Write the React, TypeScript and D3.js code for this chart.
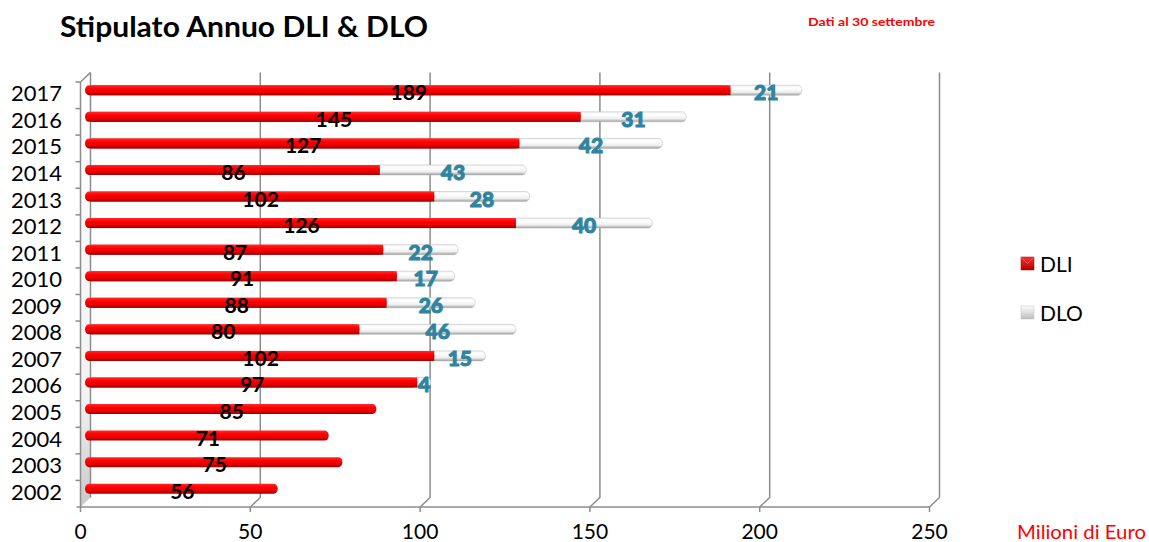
import React from "react";
import * as d3 from "d3";

const years = ["2017","2016","2015","2014","2013","2012","2011","2010","2009","2008","2007","2006","2005","2004","2003","2002"];
const dli = [189,145,127,86,102,126,87,91,88,80,102,97,85,71,75,56];
const dlo = [21,31,42,43,28,40,22,17,26,46,15,4,0,0,0,0];
const xTicks = [0,50,100,150,200,250];
const seriesNames = ["DLI","DLO"];

const W = 1149, H = 542;
const FONT = "Lato, 'Open Sans', sans-serif";

export default function App() {
  const xFront = d3.scaleLinear().domain([0,250]).range([80.5,929.5]);
  const xBar = d3.scaleLinear().domain([0,250]).range([87,938.2]);
  const depthX = 10, depthY = 9.5;
  const y = d3.scaleBand().domain(years).range([82, 507]).paddingInner(0).paddingOuter(0);
  const floorY = 507;
  const backTop = 72.5;
  const barH = 10;
  const teal = "#2f84a0";

  return (
    <svg width={W} height={H} style={{position:"absolute", left:0, top:0, background:"#fff"}} fontFamily={FONT}>
      <defs>
        <linearGradient id="redG" x1="0" y1="0" x2="0" y2="1">
          <stop offset="0" stopColor="#ff2a2a"/>
          <stop offset="0.35" stopColor="#ff0000"/>
          <stop offset="0.7" stopColor="#e80000"/>
          <stop offset="1" stopColor="#9a0000"/>
        </linearGradient>
        <linearGradient id="whiteG" x1="0" y1="0" x2="0" y2="1">
          <stop offset="0" stopColor="#f4f4f4"/>
          <stop offset="0.3" stopColor="#ffffff"/>
          <stop offset="0.7" stopColor="#eeeeee"/>
          <stop offset="1" stopColor="#9c9c9c"/>
        </linearGradient>
        <linearGradient id="wallG" x1="0" y1="0" x2="0" y2="1">
          <stop offset="0" stopColor="#ffffff"/>
          <stop offset="0.75" stopColor="#f2f2f2"/>
          <stop offset="1" stopColor="#c8c8c8"/>
        </linearGradient>
        <linearGradient id="legR" x1="0" y1="0" x2="0" y2="1">
          <stop offset="0" stopColor="#ff3030"/>
          <stop offset="1" stopColor="#b00000"/>
        </linearGradient>
        <linearGradient id="legW" x1="0" y1="0" x2="0" y2="1">
          <stop offset="0" stopColor="#ffffff"/>
          <stop offset="1" stopColor="#bdbdbd"/>
        </linearGradient>
      </defs>

      {/* Title */}
      <text x={60} y={37} fontSize={28} fontWeight={700} fill="#000" textLength={368} lengthAdjust="spacingAndGlyphs">Stipulato Annuo DLI &amp; DLO</text>
      <text x={808} y={26} fontSize={11} fontWeight={700} fill="#ff0000" textLength={127} lengthAdjust="spacingAndGlyphs">Dati al 30 settembre</text>

      {/* Left wall */}
      <path d={`M${xFront(0)},${82} L${xFront(0)+depthX},${backTop} L${xFront(0)+depthX},${floorY-depthY} L${xFront(0)},${floorY} Z`} fill="url(#wallG)" stroke="none"/>
      <line x1={xFront(0)} x2={xFront(0)} y1={82} y2={floorY} stroke="#8c8c8c" strokeWidth={1.5}/>
      <line x1={xFront(0)+depthX} x2={xFront(0)+depthX} y1={backTop} y2={floorY-depthY} stroke="#8c8c8c" strokeWidth={1.5}/>
      <line x1={xFront(0)} x2={xFront(0)+depthX} y1={82} y2={backTop} stroke="#8c8c8c" strokeWidth={1.5}/>

      {/* Gridlines back wall */}
      {xTicks.filter(t => t > 0).map(t => (
        <path key={t} d={`M${xFront(t)+depthX},${backTop} L${xFront(t)+depthX},${floorY-depthY} L${xFront(t)},${floorY}`} fill="none" stroke="#8c8c8c" strokeWidth={1.5}/>
      ))}
      {/* floor front line */}
      <line x1={xFront(0)-4} x2={xFront(250)} y1={floorY} y2={floorY} stroke="#8c8c8c" strokeWidth={1.5}/>
      {xTicks.map(t => (
        <line key={t} x1={xFront(t)} x2={xFront(t)} y1={floorY} y2={floorY+5} stroke="#8c8c8c" strokeWidth={1.5}/>
      ))}
      {/* left axis ticks */}
      {years.map((yr) => (
        <line key={yr} x1={xFront(0)-5} x2={xFront(0)} y1={y(yr)!} y2={y(yr)!} stroke="#8c8c8c" strokeWidth={1.5}/>
      ))}

      {/* x tick labels */}
      {xTicks.map(t => (
        <text key={t} x={xFront(t)} y={539} fontSize={21} textAnchor="middle" fill="#000">{t}</text>
      ))}
      <text x={1017} y={539} fontSize={19} fill="#ff0000" textLength={129} lengthAdjust="spacingAndGlyphs">Milioni di Euro</text>

      {/* year labels */}
      {years.map((yr) => (
        <text key={yr} x={62} y={y(yr)! + y.bandwidth()/2 + 6} fontSize={22} textAnchor="end" fill="#000">{yr}</text>
      ))}

      {/* bars */}
      {years.map((yr, i) => {
        const cy = y(yr)! + y.bandwidth()/2 - 5;
        const top = cy - barH/2;
        const x0 = xBar(0) - 2;
        const xr = xBar(dli[i]);
        const xt = xBar(dli[i] + dlo[i]);
        return (
          <g key={yr}>
            {dlo[i] > 0 && (
              <rect x={xr - 5} y={top} width={xt - xr + 5} height={barH} rx={4} ry={5} fill="url(#whiteG)" stroke="#b5b5b5" strokeWidth={0.5}/>
            )}
            <rect x={x0} y={top} width={xr - x0} height={barH} rx={4} ry={5} fill="url(#redG)"/>
            {dlo[i] > 0 && (
              <rect x={x0 + 6} y={top} width={xr - x0 - 6} height={barH} fill="url(#redG)"/>
            )}
          </g>
        );
      })}

      {/* value labels */}
      {years.map((yr, i) => {
        const cy = y(yr)! + y.bandwidth()/2 - 5;
        return (
          <g key={yr}>
            <text x={(xBar(0) + xBar(dli[i]))/2} y={cy + 10} fontSize={21} fontWeight={700} textAnchor="middle" fill="#000">{dli[i]}</text>
            {dlo[i] > 0 && (
              <text x={(xBar(dli[i]) + xBar(dli[i]+dlo[i]))/2} y={cy + 10} fontSize={21} fontWeight={900} textAnchor="middle" fill={teal} stroke={teal} strokeWidth={1} paintOrder="stroke">{dlo[i]}</text>
            )}
          </g>
        );
      })}

      {/* legend */}
      <rect x={1021} y={257} width={13} height={13} fill="url(#legR)" stroke="#a00000" strokeWidth={0.5}/>
      <path d="M1021,257 L1027.5,263.5 L1034,257" fill="none" stroke="#ff6060" strokeWidth={0.8}/>
      <text x={1040} y={272} fontSize={21} fill="#000">{seriesNames[0]}</text>
      <rect x={1021} y={306} width={13} height={13} fill="url(#legW)" stroke="#c0c0c0" strokeWidth={0.5}/>
      <text x={1040} y={321} fontSize={21} fill="#000">{seriesNames[1]}</text>
    </svg>
  );
}
